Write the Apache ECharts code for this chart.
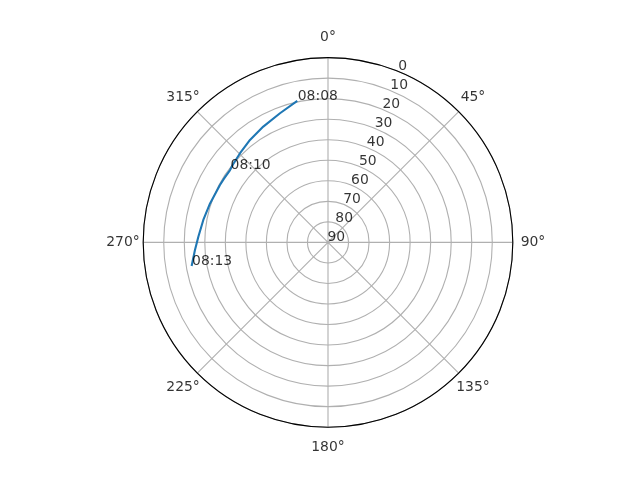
<!DOCTYPE html>
<html>
<head>
<meta charset="utf-8">
<script src="https://cdn.jsdelivr.net/npm/echarts@6/dist/echarts.min.js"></script>
<style>html,body{margin:0;padding:0;background:#fff;}#c{width:640px;height:480px;}</style>
</head>
<body>
<div id="c"></div>
<script>
// Satellite track: azimuth (deg) and elevation (deg)
const azimuth   = [347.75, 339.6, 330.8, 322.7, 315.4, 309.6, 306.45, 301.5, 298.0, 288.3, 280.2, 272.5, 266.7, 260.2];
const elevation = [19.5, 22.9, 25.4, 27.3, 29.0, 30.1, 30.7, 30.6, 30.4, 29.5, 28.3, 26.8, 25.1, 22.6];
const labelIdx   = [0, 6, 13];
const labelTimes = ['08:08', '08:10', '08:13'];
const angleTicks = [0, 45, 90, 135, 180, 225, 270, 315];
const angleLabelRadius = -9.84;   // just outside the 0 ring (radius axis is inverted)
const radiusTicks = [0, 10, 20, 30, 40, 50, 60, 70, 80, 90];
const rLabelAngle = 22.5;

const FONT = 'DejaVu Sans';
const FS = 13.9;

const track = azimuth.map((a, i) => [elevation[i], a]);
const annot = labelIdx.map((idx, k) => ({ value: [elevation[idx], azimuth[idx]], name: labelTimes[k] }));
const rLabels = radiusTicks.map(r => ({ value: [r, rLabelAngle], name: String(r) }));
const aLabels = angleTicks.map(a => ({ value: [angleLabelRadius, a], name: a + '°' }));

const chart = echarts.init(document.getElementById('c'), null, { renderer: 'canvas' });
chart.setOption({
  animation: false,
  backgroundColor: '#fff',
  polar: { center: [328, 242.4], radius: 184.8 },
  angleAxis: {
    type: 'value', min: 0, max: 360, interval: 45, startAngle: 90, clockwise: true,
    axisLine: { show: true, lineStyle: { color: '#000', width: 1.1 } },
    axisTick: { show: false },
    axisLabel: { show: false },
    splitLine: { show: true, lineStyle: { color: '#b0b0b0', width: 1.1 } }
  },
  radiusAxis: {
    type: 'value', min: 0, max: 90, interval: 10, inverse: true,
    axisLine: { show: false }, axisTick: { show: false }, axisLabel: { show: false },
    splitLine: { show: true, lineStyle: { color: '#b0b0b0', width: 1.1 } }
  },
  series: [
    {
      type: 'line', coordinateSystem: 'polar', data: track, showSymbol: false, symbol: 'none',
      smooth: false, lineStyle: { color: '#1f77b4', width: 2.1 }, z: 3, silent: true
    },
    {
      type: 'scatter', coordinateSystem: 'polar', data: rLabels, symbol: 'circle', symbolSize: 1,
      itemStyle: { color: 'rgba(0,0,0,0)' }, z: 4, silent: true,
      label: { show: true, position: [0, 0], align: 'left', verticalAlign: 'bottom', offset: [0, 2],
        formatter: p => p.name, fontFamily: FONT, fontSize: FS, color: '#000' }
    },
    {
      type: 'scatter', coordinateSystem: 'polar', data: aLabels, symbol: 'circle', symbolSize: 1,
      itemStyle: { color: 'rgba(0,0,0,0)' }, z: 4, silent: true, clip: false,
      label: { show: true, position: 'inside', align: 'center', verticalAlign: 'middle',
        formatter: p => p.name, fontFamily: FONT, fontSize: FS, color: '#000' }
    },
    {
      type: 'scatter', coordinateSystem: 'polar', data: annot, symbol: 'circle', symbolSize: 1,
      itemStyle: { color: 'rgba(0,0,0,0)' }, z: 5, silent: true,
      label: { show: true, position: [0, 0], align: 'left', verticalAlign: 'bottom', offset: [1, 3],
        formatter: p => p.name, fontFamily: FONT, fontSize: FS, color: '#000' }
    }
  ]
});
</script>
</body>
</html>
